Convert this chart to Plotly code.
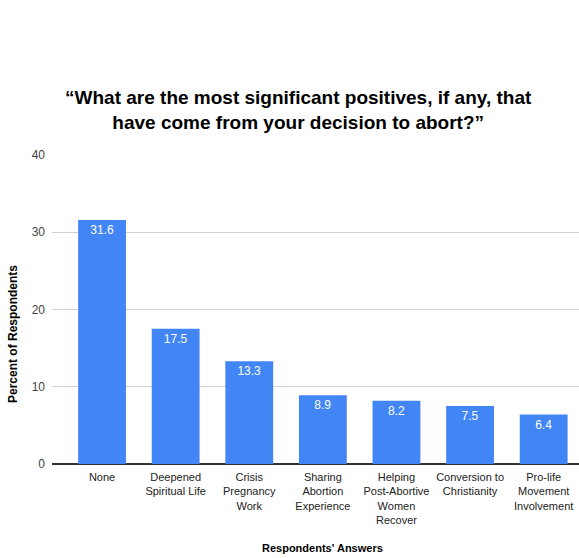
import plotly.graph_objects as go

categories = ["None", "Deepened<br>Spiritual Life", "Crisis<br>Pregnancy<br>Work",
              "Sharing<br>Abortion<br>Experience", "Helping<br>Post-Abortive<br>Women<br>Recover",
              "Conversion to<br>Christianity", "Pro-life<br>Movement<br>Involvement"]
values = [31.6, 17.5, 13.3, 8.9, 8.2, 7.5, 6.4]
y_ticks = [0, 10, 20, 30, 40]

fig = go.Figure()
fig.add_trace(go.Bar(
    x=list(range(len(categories))), y=values,
    marker=dict(color="#4285F4", line=dict(width=0)),
    width=0.65,
    text=[f"{v}" for v in values], textposition="inside", insidetextanchor="end",
    textfont=dict(color="white", size=12, family="Liberation Sans"),
    textangle=0,
))

fig.update_layout(
    width=579, height=558,
    margin=dict(l=52, r=0, t=155, b=94),
    paper_bgcolor="white", plot_bgcolor="white",
    showlegend=False,
    font=dict(family="Liberation Sans", color="#222"),
    title=dict(text="“What are the most significant positives, if any, that<br>have come from your decision to abort?”",
               x=0.515, xanchor="center", y=1 - 104 / 558, yanchor="middle",
               font=dict(size=19, color="black", family="Liberation Sans", weight="bold")),
    xaxis=dict(tickmode="array", tickvals=list(range(len(categories))), ticktext=categories,
               range=[-0.68, 6.48], showgrid=False, tickfont=dict(size=11, color="#222"),
               ticks="", showline=False, zeroline=False, ticklabelstandoff=5),
    yaxis=dict(range=[0, 40], tickvals=y_ticks, showgrid=True, gridcolor="#d0d0d0",
               tickfont=dict(size=12, color="#444"), zeroline=True, zerolinecolor="#333",
               zerolinewidth=1.5, ticks="", ticklabelstandoff=6),
    annotations=[
        dict(text="<b>Percent of Respondents</b>", textangle=-90,
             x=(13 - 52) / 527, xref="paper", xanchor="center",
             y=(464 - 334) / 309, yref="paper", yanchor="middle",
             showarrow=False, font=dict(size=12, color="black")),
        dict(text="<b>Respondents' Answers</b>", x=(322 - 52) / 527, xref="paper", xanchor="center",
             y=-(548 - 464) / 309, yref="paper", yanchor="middle",
             showarrow=False, font=dict(size=11, color="black")),
    ],
)
fig.write_html("out.html")
